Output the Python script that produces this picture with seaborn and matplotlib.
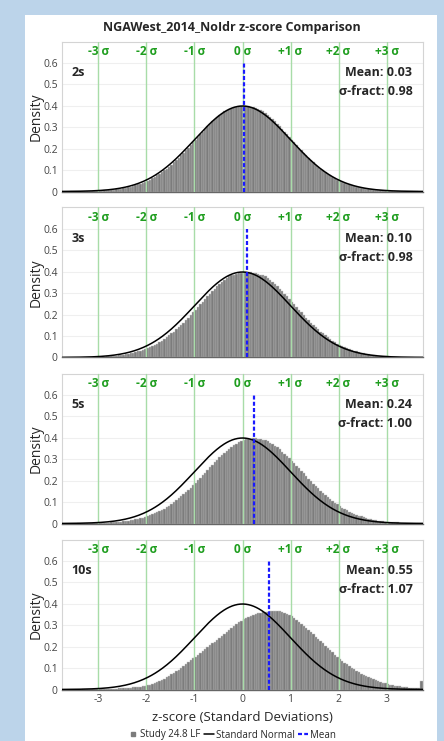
import numpy as np
import pandas as pd
import matplotlib
matplotlib.use("Agg")
import matplotlib.pyplot as plt
from matplotlib.patches import Rectangle
from matplotlib.lines import Line2D
import seaborn as sns

sns.set_theme(style="white")
plt.rcParams["font.family"] = ["Open Sans", "DejaVu Sans"]

# ---------------- data ----------------
periods = ["2s", "3s", "5s", "10s"]
means = [0.03, 0.10, 0.24, 0.55]
sigma_fracts = [0.98, 0.98, 1.00, 1.07]
sigma_ticks = [-3, -2, -1, 0, 1, 2, 3]
sigma_labels = ["-3 σ", "-2 σ", "-1 σ", "0 σ", "+1 σ", "+2 σ", "+3 σ"]
y_ticks = [0, 0.1, 0.2, 0.3, 0.4, 0.5, 0.6]
y_tick_labels = ["0", "0.1", "0.2", "0.3", "0.4", "0.5", "0.6"]
x_ticks = [-3, -2, -1, 0, 1, 2, 3]
x_tick_labels = ["-3", "-2", "-1", "0", "1", "2", "3"]
bin_lo, bin_hi, bin_w = -3.75, 3.75, 0.05

# histogram density per 0.05 bin, from -3.75 to 3.75 (150 bins)
dens_2s = [
    .000, .000, .000, .001, .001, .001, .001, .001, .001, .001,
    .002, .002, .002, .003, .003, .004, .004, .005, .006, .007,
    .008, .009, .011, .012, .014, .016, .018, .020, .023, .026,
    .029, .033, .037, .041, .046, .051, .056, .062, .069, .075,
    .083, .090, .099, .107, .116, .126, .136, .147, .158, .169,
    .180, .193, .205, .217, .229, .242, .255, .267, .280, .292,
    .304, .316, .327, .338, .348, .357, .366, .375, .382, .386,
    .390, .393, .395, .397, .398,
    .398, .398, .397, .395, .393, .390, .386, .382, .375, .366,
    .357, .348, .338, .327, .316, .304, .292, .280, .267, .255,
    .242, .229, .217, .205, .193, .180, .169, .158, .147, .136,
    .126, .116, .107, .099, .090, .083, .075, .069, .062, .056,
    .051, .046, .041, .037, .033, .029, .026, .023, .020, .018,
    .016, .014, .012, .011, .009, .008, .007, .006, .005, .004,
    .004, .003, .003, .002, .002, .002, .001, .001, .001, .001,
    .001, .001, .001, .000, .000,
]
dens_3s = [
    .000, .000, .000, .000, .001, .001, .001,
    .001, .001, .001, .001, .002, .002, .002, .003, .003, .004,
    .004, .005, .006, .006, .008, .009, .010, .011, .013, .015,
    .017, .019, .022, .025, .028, .031, .035, .039, .043, .048,
    .054, .059, .065, .072, .079, .087, .095, .103, .112, .121,
    .131, .141, .152, .163, .175, .186, .199, .211, .223, .236,
    .248, .261, .273, .286, .298, .310, .321, .332, .343, .353,
    .362, .371, .378, .383, .387, .391, .394, .396, .398, .399,
    .399, .398, .396, .394, .391, .387, .383, .378, .371, .362,
    .353, .343, .332, .321, .310, .298, .286, .273, .261, .248,
    .236, .223, .211, .199, .186, .175, .163, .152, .141, .131,
    .121, .112, .103, .095, .087, .079, .072, .065, .059, .054,
    .048, .043, .039, .035, .031, .028, .025, .022, .019, .017,
    .015, .013, .011, .010, .009, .008, .006, .006, .005, .004,
    .004, .003, .003, .002, .002, .002, .001, .001, .001, .001,
    .001, .001, .001,
]
dens_5s = [
    .000, .000, .000, .000, .000, .000, .001, .001, .001, .001,
    .001, .001, .001, .002, .002, .002, .003, .003, .004, .004,
    .005, .006, .007, .008, .009, .010, .012, .013, .015, .017,
    .019, .022, .024, .027, .031, .034, .038, .043, .047, .052,
    .058, .064, .070, .077, .084, .092, .100, .108, .117, .127,
    .136, .147, .157, .168, .179, .191, .202, .214, .226, .238,
    .250, .263, .274, .286, .298, .309, .320, .330, .340, .349,
    .358, .366, .373, .380, .385, .390, .393, .396, .396, .397,
    .397, .396, .395, .392, .388, .383, .377, .370, .363, .355,
    .346, .336, .326, .316, .305, .293, .282, .270, .258, .246,
    .234, .222, .210, .198, .186, .175, .164, .153, .143, .133,
    .123, .114, .105, .097, .089, .081, .074, .068, .061, .056,
    .050, .045, .041, .037, .033, .029, .026, .023, .021, .018,
    .016, .014, .012, .011, .009, .008, .007, .006, .005, .005,
    .004, .003, .003, .003, .002, .002, .002, .001, .001, .001,
]
dens_10s = [
    .000, .000, .000, .000, .000, .000, .000, .000,
    .001, .001, .001, .001, .001, .001, .001,
    .002, .002, .002, .003, .003, .003, .004, .004, .005, .005,
    .006, .007, .008, .009, .010, .011, .012, .014, .016, .018,
    .020, .023, .026, .030, .034, .039, .044, .050, .057, .064,
    .071, .078, .085, .093, .101, .110, .119, .128, .136, .145,
    .153, .162, .171, .179, .188, .197, .206, .215, .224, .233,
    .242, .251, .260, .269, .278, .287, .296, .305, .313, .321,
    .328, .334, .339, .344, .348, .352, .355, .358, .360, .362, .363,
    .365, .366, .367, .367, .366, .363, .359, .354, .348, .341,
    .334, .326, .317, .308, .298, .288, .278, .268, .257, .246,
    .236, .225, .215, .204, .194, .183, .173, .163, .154, .144,
    .135, .126, .118, .110, .102, .094, .087, .080, .074, .068,
    .062, .057, .052, .047, .043, .039, .035, .032, .029, .026,
    .023, .021, .018, .016, .015, .013, .011, .010, .009, .008,
    .007, .006, .005, .040,
]
densities = [dens_2s, dens_3s, dens_5s, dens_10s]

# ---------------- styling ----------------
W, H = 444, 741
BLUE_BG = "#bcd4ea"
BAR = "#7c7c7c"
BAR_EDGE = "#c4c4c4"
GREEN_LINE = "#a8dca8"
GREEN_TXT = "#1f9e1f"
MEAN_BLUE = "#1a1aff"
TICK_TXT = "#444444"

fig = plt.figure(figsize=(W / 100, H / 100), dpi=100)
fig.patch.set_facecolor(BLUE_BG)
fig.add_artist(Rectangle((25 / W, 0), 412 / W, 1 - 15 / H, transform=fig.transFigure,
                         facecolor="white", edgecolor="none", zorder=0))

n_bins = int(round((bin_hi - bin_lo) / bin_w))
edges = np.linspace(bin_lo, bin_hi, n_bins + 1)
centers = (edges[:-1] + edges[1:]) / 2
xs = np.linspace(-3.76, 3.76, 400)
std_normal = np.exp(-xs ** 2 / 2) / np.sqrt(2 * np.pi)

ax_left, ax_w, ax_h = 62, 361, 150
tops = [41.5, 207.5, 373.5, 539.5]

for j, (period, m, sf, dens) in enumerate(zip(periods, means, sigma_fracts, densities)):
    top = tops[j]
    ax = fig.add_axes([ax_left / W, 1 - (top + ax_h) / H, ax_w / W, ax_h / H])
    ax.set_facecolor("white")
    ax.grid(axis="y", color="#efefef", lw=0.8)
    ax.set_axisbelow(True)

    df = pd.DataFrame({"z": centers, "density": dens})
    sns.histplot(data=df, x="z", weights="density", bins=n_bins, binrange=(bin_lo, bin_hi),
                 stat="count", color=BAR, alpha=1, edgecolor=BAR_EDGE, linewidth=0.3,
                 ax=ax, zorder=2)
    for t in sigma_ticks:
        ax.axvline(t, color=GREEN_LINE, lw=1.0, zorder=3)
    sns.lineplot(x=xs, y=std_normal, color="black", lw=1.1, ax=ax, zorder=4)
    ax.plot([m, m], [0, 0.6], color=MEAN_BLUE, lw=1.6, ls=(0, (1.8, 1.0)), zorder=5)

    for t, lab in zip(sigma_ticks, sigma_labels):
        ax.text(t, 0.655, lab, ha="center", va="center", color=GREEN_TXT,
                fontweight="bold", fontsize=8.5, zorder=6)
    ax.text(-3.56, 0.557, period, ha="left", va="center", fontweight="bold", fontsize=9, zorder=6)
    ax.text(3.54, 0.557, f"Mean: {m:.2f}", ha="right", va="center", fontweight="bold",
            fontsize=9, zorder=6)
    ax.text(3.54, 0.468, f"σ-fract: {sf:.2f}", ha="right", va="center", fontweight="bold",
            fontsize=9, zorder=6)

    ax.set_xlim(-3.76, 3.76)
    ax.set_ylim(0, 0.70)
    ax.set_yticks(y_ticks)
    ax.set_yticklabels(y_tick_labels, fontsize=7.5, color=TICK_TXT)
    ax.set_xticks(x_ticks)
    if j == 3:
        ax.set_xticklabels(x_tick_labels, fontsize=7.5, color=TICK_TXT)
    else:
        ax.set_xticklabels([])
    ax.tick_params(length=0, pad=3)
    ax.set_xlabel("")
    ax.set_ylabel("")
    for s in ["left", "top", "right"]:
        ax.spines[s].set_color("#d4d4d4")
        ax.spines[s].set_linewidth(0.8)
    ax.spines["bottom"].set_color("#666666")
    ax.spines["bottom"].set_linewidth(1.0)

    fig.text(35.7 / W, 1 - (top + ax_h / 2) / H, "Density", rotation=90,
             ha="center", va="center", fontsize=10)

fig.text(232 / W, 1 - 28 / H, "NGAWest_2014_NoIdr z-score Comparison", ha="center",
         va="center", fontweight="bold", fontsize=9)
fig.text(242.5 / W, 1 - 717.7 / H, "z-score (Standard Deviations)", ha="center",
         va="center", fontsize=9.5)

handles = [
    Line2D([], [], marker="s", color=BAR, lw=0, markersize=3.5),
    Line2D([], [], color="black", lw=1.1),
    Line2D([], [], color=MEAN_BLUE, lw=1.6, ls=(0, (1.8, 1.0))),
]
fig.legend(handles, ["Study 24.8 LF", "Standard Normal", "Mean"], loc="center",
           bbox_to_anchor=(232 / W, 1 - 735 / H), ncol=3, frameon=False, fontsize=7,
           handlelength=1.0, handletextpad=0.2, columnspacing=0.4, borderpad=0)

fig.savefig("out.png", dpi=100, facecolor=fig.get_facecolor())
